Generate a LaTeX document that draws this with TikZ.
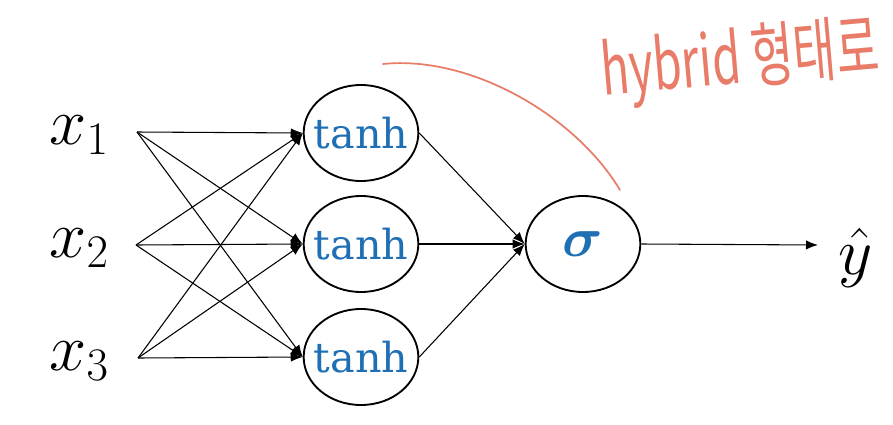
\RequirePackage{fix-cm}
\documentclass[tikz,border=0pt]{standalone}
\usepackage{amsmath,amssymb}
\usepackage{bm}
\usepackage{fontspec}
\newfontfamily\hangul{Noto Sans CJK KR}
\newfontfamily\actfont{DejaVu Serif}
\usepackage{tikz}
\usetikzlibrary{shapes.geometric,positioning,calc,arrows.meta}

\definecolor{actblue}{RGB}{31,111,181}
\definecolor{penred}{RGB}{232,124,104}

\tikzset{
    unit/.style={draw, ellipse, line width=1.4pt, inner sep=0pt,
        minimum width=86pt, minimum height=72pt},
    wire/.style={-{Latex[length=9pt,width=7pt]}, line width=0.8pt},
    actlabel/.style={text=actblue, font=\actfont\fontsize{31}{34}\selectfont, inner sep=0pt},
    invar/.style={font=\fontsize{50}{54}\selectfont, inner sep=0pt}
}

\begin{document}
\begin{tikzpicture}[x=0.75pt, y=-0.75pt]
    \useasboundingbox (0,0) rectangle (893,425);

    % Inputs
    \node[invar] (x1) at (79,135) {$x_1$};
    \node[invar] (x2) at (79,248) {$x_2$};
    \node[invar] (x3) at (79,361) {$x_3$};
    \coordinate (in1) at (137,132);
    \coordinate (in2) at (136,245);
    \coordinate (in3) at (138,358);

    % Hidden layer
    \node[unit, label={[actlabel]center:tanh}] (h1) at (361,133) {};
    \node[unit, label={[actlabel]center:tanh}] (h2) at (361,244) {};
    \node[unit, label={[actlabel]center:tanh}] (h3) at (361,357) {};

    % Output unit
    \node[unit, label={[actlabel, font=\fontsize{42}{46}\selectfont]center:$\bm{\sigma}$}] (s) at (583,244) {};
    \coordinate (yend) at (818,245);
    \node[invar] (yhat) at (856,258) {$\hat{y}$};

    % Connections
    \foreach \i in {1,2,3}
        \foreach \j in {1,2,3}
            \draw[wire] (in\i) -- (h\j.west);
    \foreach \j in {1,2,3}
        \draw[wire] (h\j.east) -- (s.west);
    \draw[wire] (s.east) -- (yend);

    % Handwritten note
    \draw[penred, line width=1.3pt, line cap=round] (383,64) .. controls (470,55) and (575,115) .. (620,190);
    \node[penred, rotate=5, font=\hangul\fontsize{31}{34}\selectfont, yscale=1.7, xscale=1.12] (note) at (740,62) {hybrid 형태로};
\end{tikzpicture}
\end{document}
